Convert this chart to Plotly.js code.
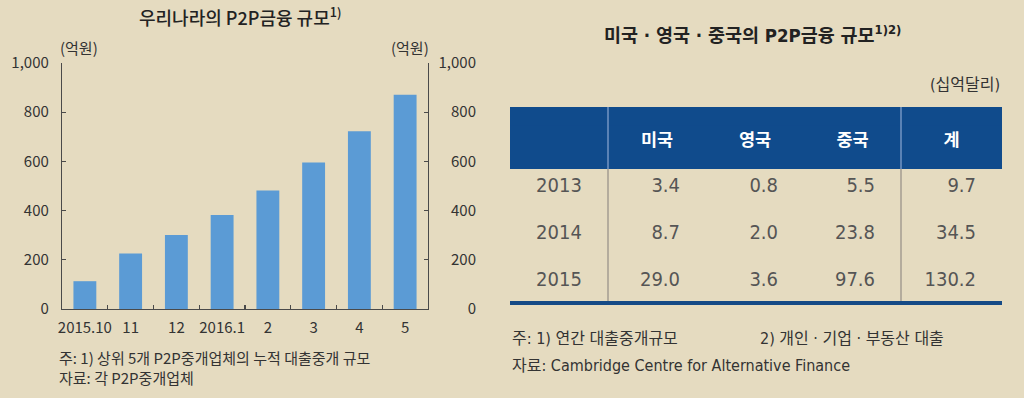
<!DOCTYPE html>
<html><head><meta charset="utf-8">
<script src="https://cdn.plot.ly/plotly-3.0.1.min.js"></script>
<style>html,body{margin:0;padding:0;background:#e5dbc0}#chart{width:1024px;height:398px}</style>
</head><body><div id="chart"></div>
<script>
// ---- data: left bar chart ----
const months = ['2015.10', '11', '12', '2016.1', '2', '3', '4', '5'];
const p2pKorea = [113, 226, 301, 382, 482, 596, 723, 871];
const yTicks = [0, 200, 400, 600, 800, 1000];

// ---- data: right table ----
const tableHeaders = ['', '미국', '영국', '중국', '계'];
const tableYears = ['2013', '2014', '2015'];
const usa = [3.4, 8.7, 29.0];
const uk = [0.8, 2.0, 3.6];
const china = [5.5, 23.8, 97.6];
const total = [9.7, 34.5, 130.2];

const W = 1024, H = 398;
const px = x => x / W;
const py = y => 1 - y / H;

const BG = '#e5dbc0';
const HEAD = '#104b8c';
const KR = 'Noto Sans CJK KR, Noto Sans, sans-serif';
const NARROW = 'Liberation Sans Narrow, DejaVu Sans Condensed, Noto Sans CJK KR, sans-serif';
const TXT = '#333333';
const AX = '#4a4a4a';

const traces = [
  {
    type: 'bar', x: months, y: p2pKorea, width: 0.5,
    marker: {color: '#5b9bd5', line: {width: 0}},
    hoverinfo: 'skip', showlegend: false
  },
  {
    type: 'scatter', mode: 'none', x: months, y: p2pKorea, yaxis: 'y3',
    hoverinfo: 'skip', showlegend: false
  },
  {
    type: 'table',
    domain: {x: [px(510), px(1002)], y: [py(311), py(125)]},
    columnwidth: [98, 98, 98, 97, 101],
    header: {
      values: tableHeaders,
      align: 'center',
      height: 44,
      fill: {color: HEAD},
      line: {color: HEAD, width: 0},
      font: {family: KR, size: 17.5, color: '#ffffff', weight: 'bold'}
    },
    cells: {
      values: [tableYears, usa, uk, china, total],
      format: ['', '.1f', '.1f', '.1f', '.1f'],
      suffix: ['', '\u2003', '\u2003', '\u2003', '\u2003'],
      align: ['center', 'right', 'right', 'right', 'right'],
      height: 47,
      fill: {color: 'rgba(0,0,0,0)'},
      line: {color: 'rgba(0,0,0,0)', width: 0},
      font: {family: NARROW, size: 20, color: '#555555'}
    }
  }
];

const ann = (text, x, y, size, opts) => Object.assign({
  text: text, x: px(x), y: py(y), xref: 'paper', yref: 'paper',
  showarrow: false, xanchor: 'center', yanchor: 'middle',
  font: {family: KR, size: size, color: TXT}
}, opts || {});

const layout = {
  width: W, height: H,
  margin: {l: 0, r: 0, t: 0, b: 0},
  paper_bgcolor: BG, plot_bgcolor: BG,
  showlegend: false,
  xaxis: {
    domain: [px(62), px(428)],
    type: 'category', range: [-0.5, 7.5], fixedrange: true,
    showline: true, linecolor: AX, linewidth: 1.2,
    ticks: 'inside', tickson: 'boundaries', ticklen: 4, tickcolor: AX, tickwidth: 1.2,
    showgrid: false, zeroline: false, tickangle: 0,
    tickfont: {family: KR, size: 15, color: TXT},
    ticklabelstandoff: 5
  },
  yaxis: {
    domain: [py(309), py(63)],
    range: [0, 1000], tickvals: yTicks, tickformat: ',d', fixedrange: true,
    showline: true, linecolor: AX, linewidth: 1.2, mirror: 'ticks',
    ticks: 'inside', ticklen: 4, tickcolor: AX, tickwidth: 1.2,
    showgrid: false, zeroline: false,
    tickfont: {family: KR, size: 15, color: TXT},
    ticklabelstandoff: 9
  },
  yaxis3: {
    overlaying: 'y', anchor: 'free', position: px(476), side: 'left',
    range: [0, 1000], tickvals: yTicks, tickformat: ',d', fixedrange: true,
    showline: false, ticks: '', showgrid: false, zeroline: false,
    tickfont: {family: KR, size: 15, color: TXT}
  },
  shapes: [
    {type: 'rect', xref: 'paper', yref: 'paper', x0: px(510), x1: px(1002), y0: py(125.5), y1: py(107), fillcolor: HEAD, line: {width: 0}},
    {type: 'line', xref: 'paper', yref: 'paper', x0: px(608), x1: px(608), y0: py(107), y1: py(169), line: {color: '#5a82b5', width: 2}},
    {type: 'line', xref: 'paper', yref: 'paper', x0: px(901), x1: px(901), y0: py(107), y1: py(169), line: {color: '#5a82b5', width: 2}},
    {type: 'line', xref: 'paper', yref: 'paper', x0: px(608), x1: px(608), y0: py(169), y1: py(302), line: {color: '#a39d92', width: 1.5}},
    {type: 'line', xref: 'paper', yref: 'paper', x0: px(901), x1: px(901), y0: py(169), y1: py(302), line: {color: '#a39d92', width: 1.5}},
    {type: 'line', xref: 'paper', yref: 'paper', x0: px(510), x1: px(1002), y0: py(303), y1: py(303), line: {color: '#154a86', width: 4}}
  ],
  annotations: [
    ann('우리나라의 P2P금융 규모<sup>1)</sup>', 240, 16, 18, {font: {family: KR, size: 18, color: '#222', weight: 500}}),
    ann('(억원)', 79, 48, 15),
    ann('(억원)', 410, 48, 15),
    ann('주: 1) 상위 5개 P2P중개업체의 누적 대출중개 규모', 57, 357, 15, {xanchor: 'left'}),
    ann('자료: 각 P2P중개업체', 57, 377, 15, {xanchor: 'left'}),
    ann('미국 · 영국 · 중국의 P2P금융 규모<sup>1)2)</sup>', 752, 34, 18.5, {font: {family: NARROW, size: 18.5, color: '#222', weight: 'bold'}}),
    ann('(십억달리)', 1002, 84, 16, {xanchor: 'right', font: {family: NARROW, size: 16, color: TXT}}),
    ann('주: 1) 연간 대출중개규모', 510, 338, 16, {xanchor: 'left', font: {family: NARROW, size: 16, color: TXT}}),
    ann('2) 개인 · 기업 · 부동산 대출', 758, 338, 16, {xanchor: 'left', font: {family: NARROW, size: 16, color: TXT}}),
    ann('자료: Cambridge Centre for Alternative Finance', 510, 365, 16, {xanchor: 'left', font: {family: NARROW, size: 16, color: TXT}})
  ]
};

Plotly.newPlot('chart', traces, layout, {staticPlot: true, displayModeBar: false});
</script>
</body></html>
